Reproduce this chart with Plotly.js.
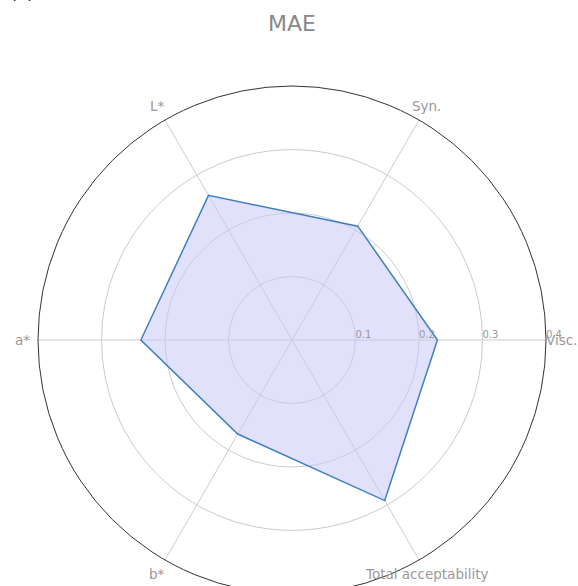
<!DOCTYPE html>
<html>
<head>
<meta charset="utf-8">
<script src="https://cdn.plot.ly/plotly-3.0.1.min.js"></script>
<style>
html,body{margin:0;padding:0;overflow:hidden;background:#fff;}
#chart{width:578px;height:600px;}
</style>
</head>
<body>
<div id="chart"></div>
<script>
var categories = ["Visc.", "Syn.", "L*", "a*", "b*", "Total acceptability"];
var maeValues = [0.229, 0.207, 0.263, 0.238, 0.171, 0.292];
var radialTicks = [0.1, 0.2, 0.3, 0.4];
var radialTickText = ["0.1", "0.2", "0.3", "0.4"];
var radialMax = 0.4;
var labelRadius = 0.425;

var NB = "\u00a0\u00a0\u00a0\u00a0\u00a0";

var trace = {
  type: "scatterpolar",
  r: maeValues.concat([maeValues[0]]),
  theta: categories.concat([categories[0]]),
  mode: "lines",
  fill: "toself",
  fillcolor: "rgba(200,200,250,0.55)",
  line: {color: "#3f7fbf", width: 1.5},
  hoverinfo: "skip"
};

// category labels placed around the circle, centred on each spoke (matplotlib style)
var labelAnnotations = categories.map(function (c, i) {
  var a = i * 2 * Math.PI / categories.length;
  var f = labelRadius / radialMax * 0.5;
  return {
    text: c, xref: "paper", yref: "paper",
    x: 0.5 + f * Math.cos(a), y: 0.5 + f * Math.sin(a),
    xanchor: "center", yanchor: "middle", showarrow: false,
    font: {size: 13.5, color: "#999", family: "DejaVu Sans, sans-serif"}
  };
});

var layout = {
  width: 578,
  height: 600,
  margin: {l: 38, r: 32, t: 86, b: 6},
  paper_bgcolor: "#fff",
  showlegend: false,
  font: {family: "DejaVu Sans, sans-serif", color: "#888"},
  title: {
    text: "MAE",
    x: 0.505, xanchor: "center",
    y: 1 - 23/600, yanchor: "middle",
    yref: "container",
    font: {size: 22, color: "#888", family: "DejaVu Sans, sans-serif"}
  },
  annotations: [{
    text: "(c)", xref: "paper", yref: "paper",
    x: (22 - 38) / 508, y: 1 + (86 + 7) / 508, xanchor: "center", yanchor: "middle",
    showarrow: false, font: {size: 18, color: "#222"}
  }].concat(labelAnnotations),
  polar: {
    bgcolor: "#fff",
    domain: {x: [0, 1], y: [0, 1]},
    radialaxis: {
      range: [0, radialMax],
      tickvals: radialTicks,
      ticktext: radialTickText.map(function (t) { return NB + t; }),
      angle: 0,
      tickangle: 0,
      side: "counterclockwise",
      showline: false,
      ticks: "",
      gridcolor: "#cccccc",
      gridwidth: 1,
      tickfont: {size: 10, color: "#999"}
    },
    angularaxis: {
      categoryorder: "array",
      categoryarray: categories,
      direction: "counterclockwise",
      rotation: 0,
      linecolor: "#333",
      linewidth: 1,
      gridcolor: "#cccccc",
      ticks: "",
      showticklabels: false
    }
  }
};

Plotly.newPlot("chart", [trace], layout, {displayModeBar: false, staticPlot: true});
</script>
</body>
</html>
